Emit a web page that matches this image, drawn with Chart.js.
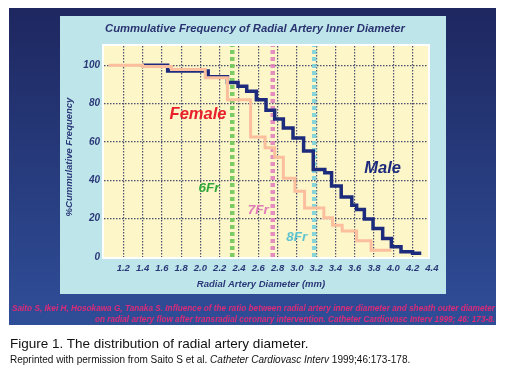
<!DOCTYPE html>
<html><head><meta charset="utf-8">
<script src="https://cdn.jsdelivr.net/npm/chart.js@4.4.1/dist/chart.umd.min.js"></script>
<style>
html,body{margin:0;padding:0;background:#fff;width:506px;height:380px;overflow:hidden;}
#wrap{position:relative;width:506px;height:380px;}
canvas{position:absolute;left:0;top:0;}
.cap1{position:absolute;left:10px;top:336px;font:13.5px "Liberation Sans",Arial,sans-serif;color:#111;white-space:nowrap;}
.cap2{position:absolute;left:10px;top:354px;font:10px "Liberation Sans",Arial,sans-serif;color:#111;white-space:nowrap;}
</style></head><body>
<div id="wrap"><canvas id="c" width="506" height="380"></canvas>
<div class="cap1">Figure 1. The distribution of radial artery diameter.</div>
<div class="cap2">Reprinted with permission from Saito S et al. <i>Catheter Cardiovasc Interv</i> 1999;46:173-178.</div>
</div>
<script>
// ---- data ----
const xTicks = [1.2,1.4,1.6,1.8,2.0,2.2,2.4,2.6,2.8,3.0,3.2,3.4,3.6,3.8,4.0,4.2,4.4];
const yTicks = [0,20,40,60,80,100];
const femaleDiameter = [1.05,1.40,1.70,2.05,2.28,2.52,2.67,2.77,2.86,2.98,3.08,3.28,3.37,3.47,3.62,3.77,3.98];
const femaleCumFreq  = [100,99.3,97.7,93.5,82,62.5,57,52,41,34.3,25.5,20.5,16.5,13.5,8.5,3.5,3.5];
const maleDiameter = [1.40,1.66,2.08,2.28,2.39,2.48,2.58,2.68,2.77,2.86,2.96,3.07,3.17,3.29,3.36,3.46,3.57,3.62,3.70,3.79,3.89,3.98,4.08,4.20,4.29];
const maleCumFreq  = [100,97,94,91,89,86.4,82,76.5,72,67.3,62,55.2,45.6,43.9,37,31.3,27,24.8,19.8,14.9,9.6,5.3,2.8,1.9,1.9];
const sheathLabels = ['6Fr','7Fr','8Fr'];
const sheathDiameter = [2.33,2.75,3.18];
const seriesNames = ['Female','Male'];
const titleText = 'Cummulative Frequency of Radial Artery Inner Diameter';
const xTitle = 'Radial Artery Diameter (mm)';
const yTitle = '%Cummulative Frequency';
const citation1 = 'Saito S, Ikei H, Hosokawa G, Tanaka S. Influence of the ratio between radial artery inner diameter and sheath outer diameter';
const citation2 = 'on radial artery flow after transradial coronary intervention. Catheter Cardiovasc Interv 1999; 46: 173-8.';

const navyText = '#2b3878';
const sheathColors = ['rgba(110,200,90,0.9)','rgba(226,130,190,0.9)','rgba(120,210,220,0.9)'];
const gridColor = 'rgba(45,50,95,0.85)';
const FONT = '"Liberation Sans", Arial, sans-serif';

const pts = (xs, ys) => xs.map((x,i)=>({x, y: ys[i]}));
const datasets = [
  {label: seriesNames[0], data: pts(femaleDiameter, femaleCumFreq), stepped: true,
   borderColor: '#fbbf9e', borderWidth: 3, pointRadius: 0, fill: false, order: 1, borderJoinStyle: 'miter'},
  {label: seriesNames[1], data: pts(maleDiameter, maleCumFreq), stepped: true,
   borderColor: '#1c2b7c', borderWidth: 3.5, pointRadius: 0, fill: false, order: 2, borderJoinStyle: 'miter'}
];
sheathDiameter.forEach((d,i)=>{
  datasets.push({label: sheathLabels[i], data: [{x:d,y:0},{x:d,y:110}], borderColor: sheathColors[i],
    borderWidth: 4.5, borderDash: [4,3], pointRadius: 0, fill: false, order: 3});
});

const bgPlugin = {
  id: 'bg',
  beforeDraw(chart) {
    const c = chart.ctx, a = chart.chartArea;
    c.save();
    const g = c.createLinearGradient(0, 8, 0, 325);
    g.addColorStop(0, '#1e2760');
    g.addColorStop(1, '#2f4e98');
    c.fillStyle = g;
    c.fillRect(9, 8, 487, 317);
    c.fillStyle = '#bee6ea';
    c.fillRect(60, 16, 386, 278);
    c.fillStyle = '#ffffff';
    c.fillRect(a.left-2, a.top-2, a.right-a.left+4, a.bottom-a.top+4);
    c.fillStyle = '#fdf6c9';
    c.fillRect(a.left, a.top, a.right-a.left, a.bottom-a.top);
    c.restore();
  }
};

const textPlugin = {
  id: 'texts',
  afterDraw(chart) {
    const c = chart.ctx;
    const xs = chart.scales.x, ys = chart.scales.y;
    c.save();
    c.textAlign = 'center';
    c.textBaseline = 'alphabetic';
    // title
    c.fillStyle = '#2a3370';
    c.font = 'italic bold 11.5px ' + FONT;
    c.fillText(titleText, 255, 32, 300);
    // x title
    c.fillStyle = navyText;
    c.font = 'italic bold 9.5px ' + FONT;
    c.fillText(xTitle, 261, 287);
    // y title
    c.save();
    c.translate(72, 157);
    c.rotate(-Math.PI/2);
    c.font = 'italic bold 9.5px ' + FONT;
    c.fillText(yTitle, 0, 0);
    c.restore();
    // series labels
    c.textBaseline = 'middle';
    c.font = 'italic bold 16.5px ' + FONT;
    c.fillStyle = '#e8202b';
    c.fillText(seriesNames[0], xs.getPixelForValue(1.975), ys.getPixelForValue(74.5));
    c.fillStyle = '#1c2b7c';
    c.fillText(seriesNames[1], xs.getPixelForValue(3.89), ys.getPixelForValue(46.4));
    // sheath labels
    const sheathLabelX = [2.09, 2.60, 3.00];
    const sheathLabelY = [36, 24.5, 10.4];
    const sheathTextColors = ['#2fa83a','#e07ab8','#5cc3cf'];
    c.font = 'italic bold 13.5px ' + FONT;
    sheathLabels.forEach((t,i)=>{
      c.fillStyle = sheathTextColors[i];
      c.fillText(t, xs.getPixelForValue(sheathLabelX[i]), ys.getPixelForValue(sheathLabelY[i]));
    });
    // citation
    c.textBaseline = 'alphabetic';
    c.fillStyle = '#dc2a78';
    c.font = 'italic bold 8.5px ' + FONT;
    c.textAlign = 'left';
    c.fillText(citation1, 12, 311, 483);
    c.textAlign = 'right';
    c.fillText(citation2, 495, 322, 400);
    c.restore();
  }
};

new Chart(document.getElementById('c'), {
  type: 'line',
  data: {datasets},
  options: {
    responsive: false, animation: false, events: [],
    layout: {padding: {left: 0, top: 46, right: 78, bottom: 93}},
    plugins: {legend: {display: false}, tooltip: {enabled: false}, title: {display: false}},
    scales: {
      x: {
        type: 'linear', min: 1.0, max: 4.36,
        afterBuildTicks: s => { s.ticks = xTicks.map(v => ({value: v})); },
        afterFit: s => { s.height = 30; s.paddingLeft = 0; s.paddingRight = 0; },
        ticks: {callback: v => Number(v).toFixed(1), autoSkip: false, maxRotation: 0, minRotation: 0,
                padding: 6, color: navyText, font: {family: FONT, size: 9.5, style: 'italic', weight: 'bold'}},
        grid: {color: ctx => (ctx.tick && ctx.tick.value > 4.3) ? 'rgba(0,0,0,0)' : gridColor,
               lineWidth: 1.2, drawTicks: false},
        border: {display: false, dash: [1.5, 1.5]}
      },
      y: {
        type: 'linear', min: 0, max: 110,
        afterBuildTicks: s => { s.ticks = yTicks.map(v => ({value: v})); },
        afterFit: s => { s.width = 104; s.paddingTop = 0; s.paddingBottom = 0; },
        ticks: {callback: v => String(v), padding: 4, color: navyText,
                font: {family: FONT, size: 10, style: 'italic', weight: 'bold'}},
        grid: {color: ctx => (ctx.tick && ctx.tick.value === 0) ? 'rgba(0,0,0,0)' : gridColor,
               lineWidth: 1.2, drawTicks: false},
        border: {display: false, dash: [1.5, 1.5]}
      }
    }
  },
  plugins: [bgPlugin, textPlugin]
});
</script>
</body></html>
